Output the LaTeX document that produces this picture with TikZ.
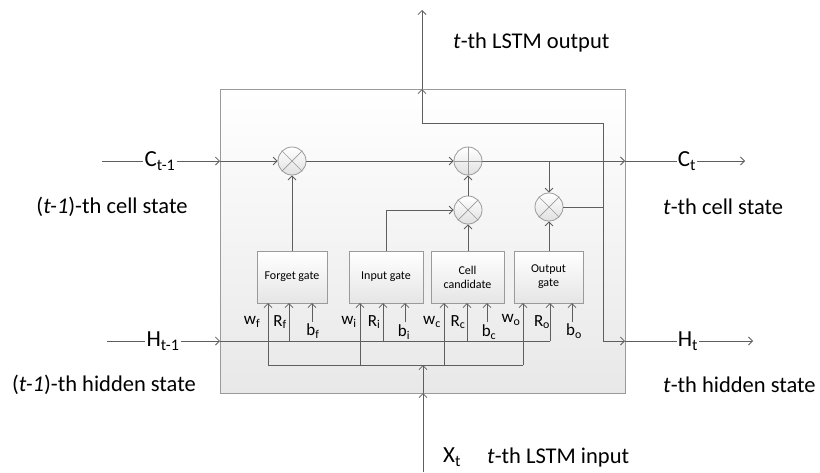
\documentclass[tikz,border=0pt]{standalone}
\usepackage{fontspec}
\setmainfont{Carlito}
\usetikzlibrary{arrows.meta,shapes.geometric}
\definecolor{ln}{HTML}{5E5E5E}
\definecolor{bd}{HTML}{9A9A9A}
\tikzset{
  conn/.style={draw=ln,line width=0.9pt},
  arr/.style={conn,-{Straight Barb[length=4pt,width=8pt,line width=0.8pt]}},
  mainbox/.style={draw=bd,line width=0.8pt,top color=white,bottom color=black!9},
  gatebox/.style={draw=bd,line width=0.8pt,top color=white,bottom color=black!10,
    rectangle,minimum height=52pt,inner sep=0pt,align=center,font=\fontsize{12}{14}\selectfont},
  opc/.style={circle,draw=bd,line width=0.8pt,top color=white,bottom color=black!12,
    minimum size=28pt,inner sep=0pt},
  big/.style={font=\fontsize{22.5}{26}\selectfont,inner sep=1pt},
  sym/.style={font=\fontsize{23}{27}\selectfont,inner sep=1pt},
  par/.style={font=\fontsize{17}{20}\selectfont,inner sep=0pt},
}
\newcommand{\sbs}[1]{\textsubscript{#1}}
\begin{document}
\begin{tikzpicture}[x=1pt,y=-1pt]
\useasboundingbox (0,0) rectangle (820,472);
% main box
\path[mainbox] (220,89) rectangle (625,393);
% gates
\node[gatebox,minimum width=70pt] (fg) at (292,277) {Forget gate};
\node[gatebox,minimum width=74pt] (ig) at (386,277) {Input gate};
\node[gatebox,minimum width=73pt] (cg) at (467.5,277) {Cell\\candidate};
\node[gatebox,minimum width=69pt] (og) at (548.5,277) {Output\\gate};
% operators
\node[opc] (fm) at (292,161) {};
\node[opc] (pl) at (468,161) {};
\node[opc] (im) at (468,210) {};
\node[opc] (om) at (549,207) {};
\foreach \n in {fm,im,om}{
  \draw[bd,line width=0.7pt] (\n.north west) -- (\n.south east);
  \draw[bd,line width=0.7pt] (\n.north east) -- (\n.south west);
}
\draw[bd,line width=0.7pt] (pl.north) -- (pl.south);
\draw[bd,line width=0.7pt] (pl.west) -- (pl.east);
% coordinates
\coordinate (cin) at (102,161);
\coordinate (bl1) at (220,161);
\coordinate (br1) at (625,161);
\coordinate (cout) at (745,161);
\coordinate (hin) at (107,341);
\coordinate (bl2) at (220,341);
\coordinate (br2) at (625,341);
\coordinate (hout) at (753,341);
\coordinate (xin) at (423,472);
\coordinate (bb) at (423,393);
\coordinate (xj) at (423,365);
\coordinate (bt) at (422,89);
\coordinate (yout) at (422,10);
% cell state row
\node[sym] (cp) at (160,161) {C\sbs{t-1}};
\node[sym] (ct) at (687,161) {C\sbs{t}};
\draw[conn] (cin) -- (cp.west);
\draw[arr] (cp.east) -- (bl1);
\draw[arr] (bl1) -- (fm.west);
\draw[arr] (fm.east) -- (pl.west);
\draw[arr] (pl.east) -- (br1);
\draw[conn] (br1) -- (ct.west);
\draw[arr] (ct.east) -- (cout);
\draw[arr] (549,161) -- (om.north);
% gate outputs
\draw[arr] (fg.north) -- (fm.south);
\draw[arr] (cg.north -| im) -- (im.south);
\draw[arr] (og.north -| om) -- (om.south);
\draw[arr] (ig.north) |- (im.west);
\draw[arr] (im.north) -- (pl.south);
% output path
\draw[conn] (om.east) -- (603,207);
\draw[arr] (603,341) -- (603,123) -| (bt);
\draw[arr] (bt) -- (yout);
\draw[arr] (603,341) -- (br2);
% hidden state row
\node[sym] (hp) at (163,341) {H\sbs{t-1}};
\node[sym] (ht) at (688,341) {H\sbs{t}};
\draw[conn] (hin) -- (hp.west);
\draw[arr] (hp.east) -- (bl2);
\draw[conn] (br2) -- (ht.west);
\draw[arr] (ht.east) -- (hout);
\draw[conn] (bl2) -- (550,341);
\foreach \x in {289,383,467,550}{\draw[arr] (\x,341) -- (\x,303);}
% input row
\draw[arr] (xin) -- (bb);
\draw[arr] (bb) -- (xj);
\draw[conn] (268,365) -- (523,365);
\foreach \x in {268,360,444,523}{\draw[arr] (\x,365) -- (\x,303);}
% biases
\foreach \x in {312,405,487,572}{\draw[arr] (\x,322) -- (\x,303);}
% parameter labels
\node[par] (wf) at (252,322) {w\sbs{f}};
\node[par] (rf) at (280,322) {R\sbs{f}};
\node[par] (bf) at (313,331) {b\sbs{f}};
\node[par] (wi) at (349,322) {w\sbs{i}};
\node[par] (ri) at (374,322) {R\sbs{i}};
\node[par] (bi) at (404,332) {b\sbs{i}};
\node[par] (wc) at (432,322) {w\sbs{c}};
\node[par] (rc) at (458,322) {R\sbs{c}};
\node[par] (bc) at (489,332) {b\sbs{c}};
\node[par] (wo) at (511,320) {w\sbs{o}};
\node[par] (ro) at (542,322) {R\sbs{o}};
\node[par] (bo) at (574,331) {b\sbs{o}};
% descriptions
\node[big] (l1) at (112,207) {(\textit{t-1})-th cell state};
\node[big] (l2) at (104,385) {(\textit{t-1})-th hidden state};
\node[big,anchor=west] (r1) at (662,207) {\textit{t}-th cell state};
\node[big,anchor=west] (r2) at (662,385) {\textit{t}-th hidden state};
\node[big,anchor=west] (tout) at (452,42) {\textit{t}-th LSTM output};
\node[sym] (xt) at (452,457) {X\sbs{t}};
\node[big,anchor=west] (tin) at (486,457) {\textit{t}-th LSTM input};
\end{tikzpicture}
\end{document}
